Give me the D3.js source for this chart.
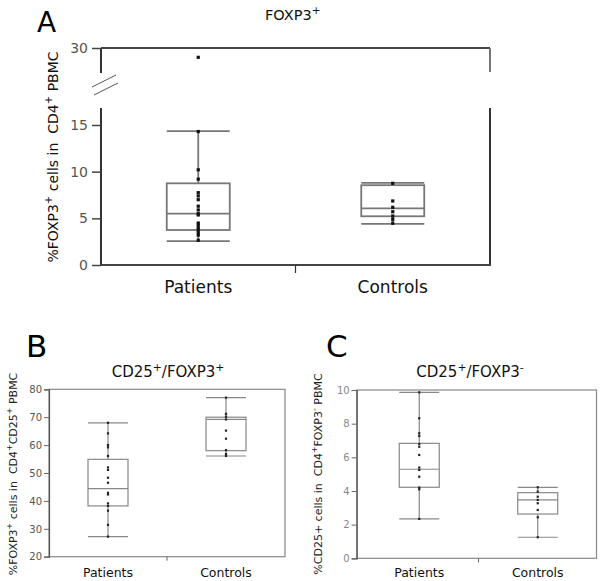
<!DOCTYPE html>
<html><head><meta charset="utf-8">
<script src="https://cdn.jsdelivr.net/npm/d3@7"></script>
<style>body{margin:0;background:#fff}svg{display:block}text{font-family:"DejaVu Sans",sans-serif;white-space:pre}</style>
</head><body>
<svg id="c" width="600" height="581"></svg>
<script>
const categories = ["Patients", "Controls"];

// Panel A: %FOXP3+ cells in CD4+ PBMC
const aPatientsPoints = [29.0, 14.3, 10.2, 9.2, 7.75, 7.4, 7.0, 6.3, 5.9, 5.5, 5.36, 4.5, 4.3, 4.0, 3.75, 3.46, 3.2, 2.65];
const aControlsPoints = [8.75, 6.86, 6.18, 5.71, 5.25, 4.9, 4.47];
// [whiskerLow, q1, median, q3, whiskerHigh]
const aPatientsBox = [2.55, 3.75, 5.5, 8.75, 14.35];
const aControlsBox = [4.4, 5.22, 6.07, 8.55, 8.8];
const aTicksLower = [0, 5, 10, 15];
const aTicksUpper = [30];

// Panel B: %FOXP3+ cells in CD4+CD25+ PBMC
const bPatientsPoints = [68.0, 64.2, 60.0, 59.2, 56.1, 52.0, 51.1, 48.3, 46.5, 42.9, 42.3, 39.1, 38.2, 36.5, 31.4, 27.2];
const bControlsPoints = [77.0, 71.2, 70.2, 69.2, 65.2, 62.3, 58.2, 56.8, 56.1];
const bPatientsBox = [27.2, 38.2, 44.4, 54.9, 68.0];
const bControlsBox = [56.1, 58.0, 69.2, 70.0, 77.0];
const bTicks = [20, 30, 40, 50, 60, 70, 80];

// Panel C: %CD25+ cells in CD4+FOXP3- PBMC
const cPatientsPoints = [9.86, 8.32, 7.43, 7.27, 6.79, 6.63, 6.14, 5.39, 5.25, 4.85, 4.2, 4.1, 2.34];
const cControlsPoints = [4.22, 3.96, 3.66, 3.47, 3.27, 2.87, 2.44, 1.25];
const cPatientsBox = [2.34, 4.22, 5.29, 6.83, 9.86];
const cControlsBox = [1.25, 2.63, 3.47, 3.9, 4.22];
const cTicks = [0, 2, 4, 6, 8, 10];

const svg = d3.select("#c");

// rich text with superscripts: segments [text, isSup]
function rich(g, segs, size, attrs) {
  const t = g.append("text").attr("font-size", size).attr("xml:space", "preserve");
  for (const k in attrs) t.attr(k, attrs[k]);
  const up = size * 0.42;
  let prevSup = false;
  segs.forEach(([s, sup]) => {
    const ts = t.append("tspan").text(s);
    if (sup && !prevSup) ts.attr("dy", -up).attr("font-size", size * 0.72);
    else if (sup) ts.attr("font-size", size * 0.72);
    else if (!sup && prevSup) ts.attr("dy", up);
    prevSup = sup;
  });
  return t;
}

function drawBoxes(g, x, y, stats, points, cfg) {
  categories.forEach((cat, i) => {
    const cx = x(cat) + x.bandwidth() / 2;
    const w = cfg.boxW;
    const [lo, q1, med, q3, hi] = stats[i];
    g.append("line").attr("x1", cx).attr("x2", cx).attr("y1", y(lo)).attr("y2", y(hi))
      .attr("stroke", cfg.stroke).attr("stroke-width", cfg.sw);
    g.append("rect").attr("x", cx - w / 2).attr("width", w).attr("y", y(q3)).attr("height", y(q1) - y(q3))
      .attr("fill", "#fff").attr("stroke", cfg.stroke).attr("stroke-width", cfg.sw);
    [lo, med, hi].forEach(v => {
      g.append("line").attr("x1", cx - w / 2).attr("x2", cx + w / 2).attr("y1", y(v)).attr("y2", y(v))
        .attr("stroke", cfg.stroke).attr("stroke-width", cfg.sw);
    });
    g.selectAll(null).data(points[i]).enter().append("rect")
      .attr("x", cx - cfg.ps / 2).attr("y", d => (cfg.yFn ? cfg.yFn(d) : y(d)) - cfg.ps / 2)
      .attr("width", cfg.ps).attr("height", cfg.ps).attr("fill", cfg.pc);
  });
}

// ---------------- Panel A ----------------
(function () {
  const g = svg.append("g");
  const left = 101, right = 490, top = 48, bottom = 265;
  const x = d3.scaleBand().domain(categories).range([left, right]).padding(0);
  const y = d3.scaleLinear().domain([0, 15]).range([bottom, bottom - 140]);
  const yUp = d3.scaleLinear().domain([27.5, 30]).range([top + 23.3, top]);
  const yAny = v => v > 20 ? yUp(v) : y(v);

  // frame
  g.append("line").attr("x1", left).attr("x2", right).attr("y1", top).attr("y2", top).attr("stroke", "#444").attr("stroke-width", 2);
  g.append("line").attr("x1", right).attr("x2", right).attr("y1", top).attr("y2", 72).attr("stroke", "#777").attr("stroke-width", 2);
  g.append("line").attr("x1", right).attr("x2", right).attr("y1", 108).attr("y2", bottom).attr("stroke", "#333").attr("stroke-width", 2);
  g.append("line").attr("x1", left - 1).attr("x2", right + 1).attr("y1", bottom).attr("y2", bottom).attr("stroke", "#444").attr("stroke-width", 2);
  g.append("line").attr("x1", x.range()[0] + x.bandwidth()).attr("x2", x.range()[0] + x.bandwidth()).attr("y1", bottom).attr("y2", bottom + 8).attr("stroke", "#333").attr("stroke-width", 1.2);

  // left axis (broken)
  const fmt = d3.format("d");
  const axL = d3.axisLeft(y).tickValues(aTicksLower).tickFormat(fmt).tickSize(9).tickPadding(4);
  const gl = g.append("g").attr("transform", `translate(${left},0)`).call(axL);
  gl.select(".domain").attr("d", `M0,${bottom}V108`).attr("stroke", "#333").attr("stroke-width", 2);
  const axU = d3.axisLeft(yUp).tickValues(aTicksUpper).tickFormat(fmt).tickSize(9).tickPadding(4);
  const gu = g.append("g").attr("transform", `translate(${left},0)`).call(axU);
  gu.select(".domain").attr("d", `M0,${top}V73`).attr("stroke", "#333").attr("stroke-width", 2);
  [gl, gu].forEach(a => {
    a.selectAll(".tick line").attr("stroke", "#444").attr("stroke-width", 1.5);
    a.selectAll(".tick text").attr("font-size", 14).attr("fill", "#555").attr("font-family", "DejaVu Sans");
  });
  // break marks
  g.append("line").attr("x1", 92).attr("y1", 87).attr("x2", 116).attr("y2", 75).attr("stroke", "#555").attr("stroke-width", 1);
  g.append("line").attr("x1", 94).attr("y1", 95).attr("x2", 118).attr("y2", 83).attr("stroke", "#555").attr("stroke-width", 1);

  drawBoxes(g, x, y, [aPatientsBox, aControlsBox], [aPatientsPoints, aControlsPoints],
    { boxW: 63, stroke: "#777", sw: 1.8, ps: 3.2, pc: "#111", yFn: yAny });

  categories.forEach(c => {
    g.append("text").attr("x", x(c) + x.bandwidth() / 2).attr("y", 293).attr("text-anchor", "middle")
      .attr("font-size", 17).attr("fill", "#111").text(c);
  });
  g.append("text").attr("x", 37).attr("y", 32).attr("font-size", 28).attr("fill", "#000").text("A");
  rich(g, [["FOXP3", false], ["+", true]], 14.5, { x: 265, y: 20, fill: "#111" });
  rich(g, [["%FOXP3", false], ["+", true], [" cells in  CD4", false], ["+", true], [" PBMC", false]], 14,
    { transform: "translate(58,157) rotate(-90)", "text-anchor": "middle", fill: "#111" });
})();

// ---------------- Panels B and C ----------------
function smallPanel(opts) {
  const g = svg.append("g");
  const { left, right, top, bottom } = opts;
  const x = d3.scaleBand().domain(categories).range([opts.bandL, opts.bandR]).padding(0);
  const y = d3.scaleLinear().domain(opts.domain).range([bottom, top]);
  g.append("rect").attr("x", left).attr("y", top).attr("width", right - left).attr("height", bottom - top)
    .attr("fill", "none").attr("stroke", "#888").attr("stroke-width", 1.2);
  const ax = d3.axisLeft(y).tickValues(opts.ticks).tickSize(5).tickPadding(2);
  const ga = g.append("g").attr("transform", `translate(${left},0)`).call(ax);
  ga.select(".domain").attr("stroke", "#555").attr("stroke-width", 1.2);
  ga.selectAll(".tick line").attr("stroke", "#666");
  ga.selectAll(".tick text").attr("font-size", 10).attr("fill", opts.tickColor).attr("font-family", "DejaVu Sans");
  g.append("line").attr("x1", opts.bandL + x.bandwidth()).attr("x2", opts.bandL + x.bandwidth())
    .attr("y1", bottom).attr("y2", bottom + 4).attr("stroke", "#666");
  drawBoxes(g, x, y, opts.stats, opts.points, { boxW: 40, stroke: "#888", sw: 1.2, ps: 2.2, pc: "#222" });
  categories.forEach(c => {
    g.append("text").attr("x", x(c) + x.bandwidth() / 2).attr("y", 577).attr("text-anchor", "middle")
      .attr("font-size", 12.5).attr("fill", "#111").text(c);
  });
  g.append("text").attr("x", opts.letterX).attr("y", 357).attr("font-size", 31).attr("fill", "#000").text(opts.letter);
  rich(g, opts.title, 15, { x: opts.titleX, y: 377, "text-anchor": "middle", fill: "#111" });
  rich(g, opts.ylab, 11, { transform: `translate(${opts.ylabX},474) rotate(-90)`, "text-anchor": "middle", fill: "#222" });
}

smallPanel({
  left: 49, right: 285, top: 389.3, bottom: 556.7, bandL: 49, bandR: 285,
  domain: [20, 80], ticks: bTicks, tickColor: "#555",
  stats: [bPatientsBox, bControlsBox], points: [bPatientsPoints, bControlsPoints],
  letter: "B", letterX: 26, titleX: 168,
  title: [["CD25", false], ["+", true], ["/FOXP3", false], ["+", true]],
  ylab: [["%FOXP3", false], ["+", true], [" cells in  CD4", false], ["+", true], ["CD25", false], ["+", true], [" PBMC", false]],
  ylabX: 17
});

smallPanel({
  left: 356.7, right: 596.5, top: 390, bottom: 558.3, bandL: 360, bandR: 597,
  domain: [0, 10], ticks: cTicks, tickColor: "#888",
  stats: [cPatientsBox, cControlsBox], points: [cPatientsPoints, cControlsPoints],
  letter: "C", letterX: 326, titleX: 470,
  title: [["CD25", false], ["+", true], ["/FOXP3", false], ["-", true]],
  ylab: [["%CD25+ cells in  CD4", false], ["+", true], ["FOXP3", false], ["-", true], [" PBMC", false]],
  ylabX: 322
});
</script>
</body></html>
